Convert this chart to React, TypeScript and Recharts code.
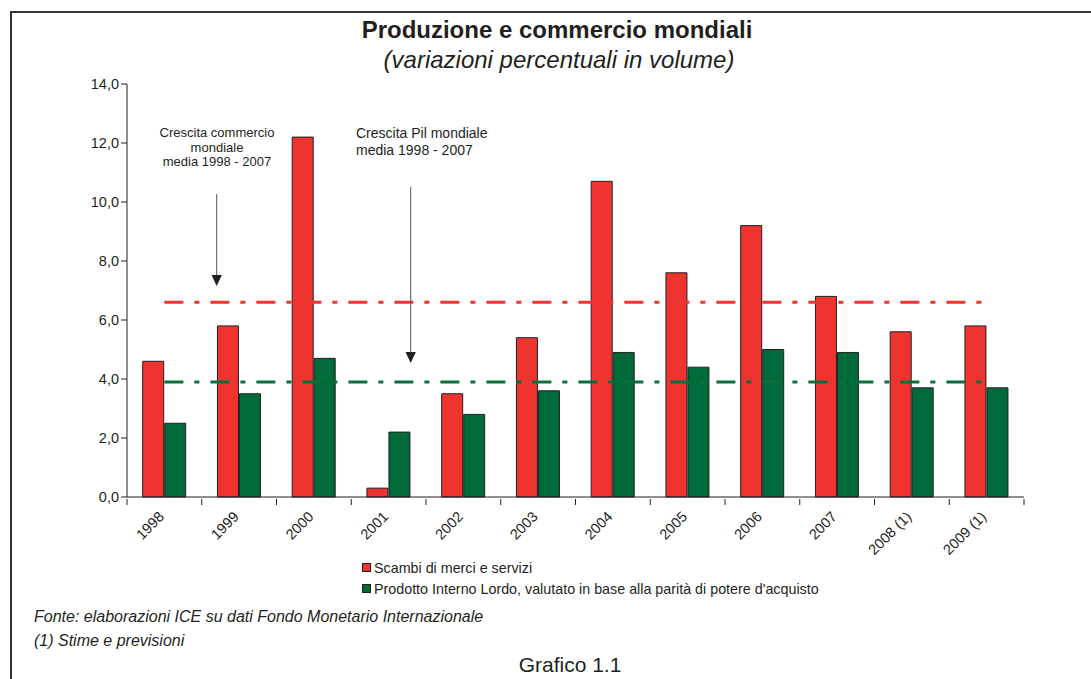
import { BarChart, Bar, XAxis, YAxis, ReferenceLine, Legend } from 'recharts'

const years = ['1998', '1999', '2000', '2001', '2002', '2003', '2004', '2005', '2006', '2007', '2008 (1)', '2009 (1)']
const scambi = [4.6, 5.8, 12.2, 0.3, 3.5, 5.4, 10.7, 7.6, 9.2, 6.8, 5.6, 5.8]
const pil = [2.5, 3.5, 4.7, 2.2, 2.8, 3.6, 4.9, 4.4, 5.0, 4.9, 3.7, 3.7]
const yTicks = [0, 2, 4, 6, 8, 10, 12, 14]
const mediaScambi = 6.6
const mediaPil = 3.9

const RED = '#ef3430'
const GREEN = '#006b3a'
const INK = '#231f20'
const FONT = '"Liberation Sans", Arial, Helvetica, sans-serif'

const data = years.map((year, i) => ({ year, scambi: scambi[i], pil: pil[i] }))

// etichetta ruotata + tacca al bordo della categoria (come nel grafico Excel)
function YearTick(props: any) {
  const { x, y, payload, index, visibleTicksCount } = props
  const half = payload?.offset ?? 0
  const last = index === visibleTicksCount - 1
  const ax = x - 3
  const ay = y + 9
  return (
    <g>
      <line x1={x - half} x2={x - half} y1={y - 6} y2={y} stroke={INK} strokeWidth={1} />
      {last && <line x1={x + half} x2={x + half} y1={y - 6} y2={y} stroke={INK} strokeWidth={1} />}
      <text
        x={ax}
        y={ay}
        transform={`rotate(-45, ${ax}, ${ay})`}
        textAnchor="end"
        dy="0.35em"
        fontSize={14.5}
        fontFamily={FONT}
        fill={INK}
      >
        {payload.value}
      </text>
    </g>
  )
}

function LegendBox() {
  const items = [
    { label: 'Scambi di merci e servizi', color: RED },
    { label: "Prodotto Interno Lordo, valutato in base alla parità di potere d'acquisto", color: GREEN },
  ]
  return (
    <div style={{ fontFamily: FONT, fontSize: 14.3, color: INK }}>
      {items.map((it) => (
        <div key={it.label} style={{ display: 'flex', alignItems: 'center', height: 21, whiteSpace: 'nowrap' }}>
          <span
            style={{
              width: 7,
              height: 7,
              background: it.color,
              border: `1px solid ${INK}`,
              marginRight: 3,
              display: 'inline-block',
            }}
          />
          {it.label}
        </div>
      ))}
    </div>
  )
}

export default function App() {
  return (
    <div
      style={{
        position: 'absolute',
        left: 0,
        top: 0,
        width: 1091,
        height: 679,
        overflow: 'hidden',
        background: '#fff',
        fontFamily: FONT,
        color: INK,
      }}
    >
      <div
        style={{
          position: 'absolute',
          left: 10,
          top: 11,
          width: 1100,
          height: 700,
          borderLeft: '2px solid #333',
          borderTop: '2px solid #333',
        }}
      />
      <div style={{ position: 'absolute', left: 0, width: 1114, top: 15, textAlign: 'center', fontSize: 24, fontWeight: 'bold', lineHeight: '30px' }}>
        Produzione e commercio mondiali
      </div>
      <div style={{ position: 'absolute', left: 0, width: 1118, top: 45, textAlign: 'center', fontSize: 24, fontStyle: 'italic', lineHeight: '30px' }}>
        (variazioni percentuali in volume)
      </div>

      <div style={{ position: 'absolute', left: 0, top: 0 }}>
        <BarChart
          width={1091}
          height={679}
          data={data}
          margin={{ top: 84, right: 67, bottom: 122, left: 67 }}
          barCategoryGap="21%"
          barGap={1}
        >
          <XAxis
            dataKey="year"
            height={60}
            interval={0}
            tickLine={false}
            axisLine={{ stroke: INK, strokeWidth: 1 }}
            tick={<YearTick />}
          />
          <YAxis
            width={60}
            domain={[0, 14]}
            ticks={yTicks}
            tickFormatter={(v: number) => v.toFixed(1).replace('.', ',')}
            tickSize={6}
            axisLine={{ stroke: INK, strokeWidth: 1 }}
            tickLine={{ stroke: INK }}
            tick={{ fill: INK, fontSize: 14.5, fontFamily: FONT }}
          />
          <Bar dataKey="scambi" fill={RED} stroke={INK} strokeWidth={1} isAnimationActive={false} />
          <Bar dataKey="pil" fill={GREEN} stroke={INK} strokeWidth={1} isAnimationActive={false} />
          <ReferenceLine
            segment={[{ x: years[0], y: mediaScambi }, { x: years[years.length - 1], y: mediaScambi }]}
            stroke={RED}
            strokeWidth={3}
            strokeDasharray="19 11 5 11"
          />
          <ReferenceLine
            segment={[{ x: years[0], y: mediaPil }, { x: years[years.length - 1], y: mediaPil }]}
            stroke="#0b6e3c"
            strokeWidth={3}
            strokeDasharray="19 11 5 11"
          />
          <Legend
            layout="vertical"
            align="center"
            verticalAlign="middle"
            wrapperStyle={{ left: 362, top: 557, width: 'auto' }}
            content={() => <LegendBox />}
          />
        </BarChart>
      </div>

      {/* annotazioni con frecce */}
      <svg width={1091} height={679} style={{ position: 'absolute', left: 0, top: 0, pointerEvents: 'none' }}>
        <g fontFamily={FONT} fill={INK}>
          <text x={217} y={137} fontSize={13} textAnchor="middle">Crescita commercio</text>
          <text x={217} y={151.5} fontSize={13} textAnchor="middle">mondiale</text>
          <text x={217} y={166} fontSize={13} textAnchor="middle">media 1998 - 2007</text>
          <text x={356} y={138} fontSize={14}>Crescita Pil mondiale</text>
          <text x={356} y={155} fontSize={14}>media 1998 - 2007</text>
        </g>
        <line x1={216.7} x2={216.7} y1={194} y2={276} stroke="#555" strokeWidth={1} />
        <polygon points="211.5,275 221.9,275 216.7,286" fill={INK} />
        <line x1={410.7} x2={410.7} y1={187} y2={353} stroke="#555" strokeWidth={1} />
        <polygon points="405.5,352 415.9,352 410.7,363" fill={INK} />
      </svg>

      <div style={{ position: 'absolute', left: 34, top: 607, fontSize: 16, fontStyle: 'italic', lineHeight: '20px' }}>
        Fonte: elaborazioni ICE su dati Fondo Monetario Internazionale
      </div>
      <div style={{ position: 'absolute', left: 34, top: 631, fontSize: 16, fontStyle: 'italic', lineHeight: '20px' }}>
        (1) Stime e previsioni
      </div>
      <div style={{ position: 'absolute', left: 470, width: 200, top: 653, textAlign: 'center', fontSize: 21, lineHeight: '24px' }}>
        Grafico 1.1
      </div>
    </div>
  )
}
